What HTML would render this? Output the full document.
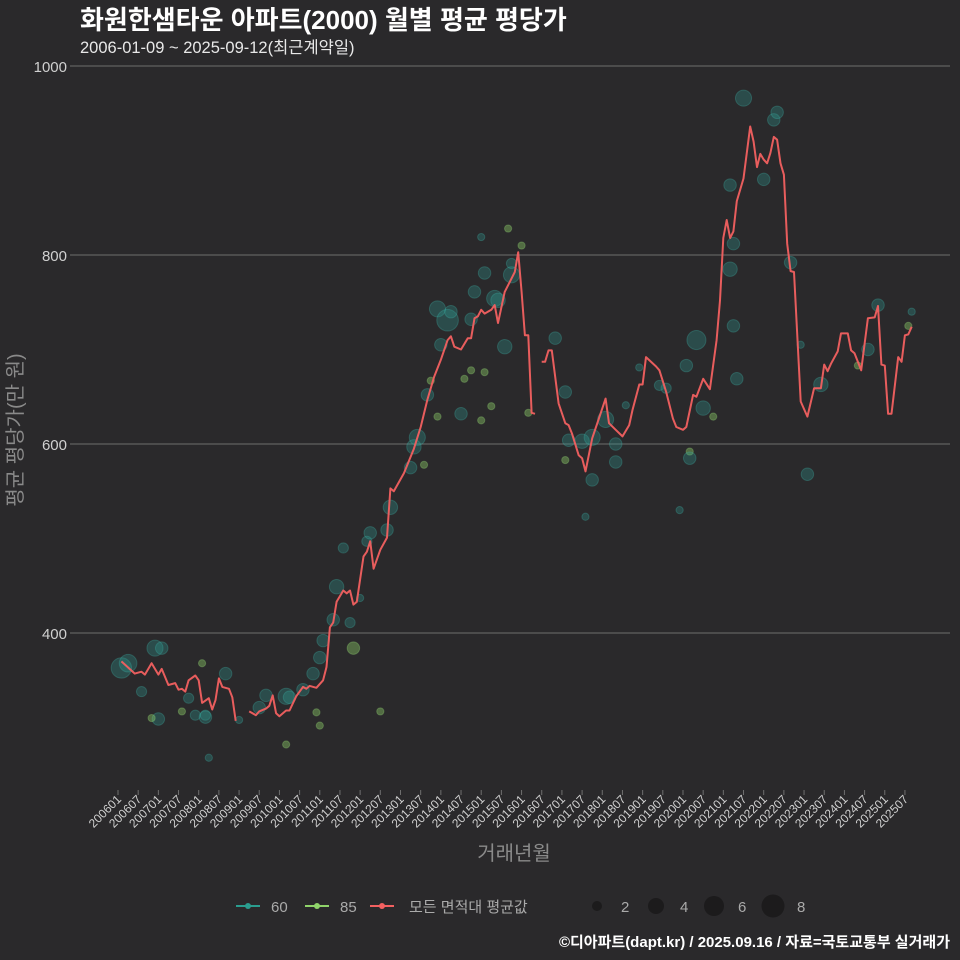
<!DOCTYPE html>
<html><head><meta charset="utf-8">
<style>
html,body{margin:0;padding:0;background:#2a292b;}
svg{display:block;font-family:"Liberation Sans","Noto Sans CJK KR",sans-serif;}
</style></head>
<body>
<svg id="chart" width="960" height="960" viewBox="0 0 960 960">
<rect width="960" height="960" fill="#2a292b"/>
<text x="80" y="29" fill="#ffffff" font-size="26" font-weight="bold">화원한샘타운 아파트(2000) 월별 평균 평당가</text>
<text x="80" y="53" fill="#e8e8e8" font-size="16.5">2006-01-09 ~ 2025-09-12(최근계약일)</text>
<g id="grid"></g>
<g id="bubbles"></g>
<g id="lines"></g>
<g id="xaxis"></g>
<text transform="translate(22,430) rotate(-90)" text-anchor="middle" fill="#8a8a8a" font-size="20">평균 평당가(만 원)</text>
<text x="514" y="860" text-anchor="middle" fill="#8a8a8a" font-size="20">거래년월</text>
<g>
 <g>
  <line x1="236" y1="906" x2="260" y2="906" stroke="#2a9d8f" stroke-width="2"/>
  <circle cx="248" cy="906" r="3" fill="#2a9d8f"/>
  <text x="271" y="912" fill="#aaaaaa" font-size="15">60</text>
 </g>
 <g>
  <line x1="305" y1="906" x2="329" y2="906" stroke="#8fd36a" stroke-width="2"/>
  <circle cx="317" cy="906" r="3" fill="#8fd36a"/>
  <text x="340" y="912" fill="#aaaaaa" font-size="15">85</text>
 </g>
 <g>
  <line x1="370" y1="906" x2="394" y2="906" stroke="#f26060" stroke-width="2"/>
  <circle cx="382" cy="906" r="3" fill="#f26060"/>
  <text x="409" y="912" fill="#aaaaaa" font-size="15">모든 면적대 평균값</text>
 </g>
 <g>
  <circle cx="597" cy="906" r="5" fill="#1c1b1c"/><text x="621" y="912" fill="#aaaaaa" font-size="15">2</text>
  <circle cx="656" cy="906" r="8" fill="#1c1b1c"/><text x="680" y="912" fill="#aaaaaa" font-size="15">4</text>
  <circle cx="714" cy="906" r="10" fill="#1c1b1c"/><text x="738" y="912" fill="#aaaaaa" font-size="15">6</text>
  <circle cx="773" cy="906" r="11.5" fill="#1c1b1c"/><text x="797" y="912" fill="#aaaaaa" font-size="15">8</text>
 </g>
</g>
<text x="950" y="947" text-anchor="end" fill="#ffffff" font-size="15" font-weight="bold">©디아파트(dapt.kr) / 2025.09.16 / 자료=국토교통부 실거래가</text>
</svg>
<script>
const yTicks = [400, 600, 800, 1000];
const xTickLabels = ["200601","200607","200701","200707","200801","200807","200901","200907","201001","201007","201101","201107","201201","201207","201301","201307","201401","201407","201501","201507","201601","201607","201701","201707","201801","201807","201901","201907","202001","202007","202101","202107","202201","202207","202301","202307","202401","202407","202501","202507"];
// average line segments: months since 2006-01, value
const seg1Months = [1,5,7,8,10,12,13,15,17,18,19,20,21,23,24,25,27,28,29,30,31,33,34,35];
const seg1Values = [370,357,359,356,368,356,362,345,347,340,341,338,350,355,350,326,331,319,329,352,343,341,332,307];
const seg2Months = [39,41,42,44,45,46,47,48,50,51,53,55,56,57,59,61,62,63,64,65,67,68,69,70,71,73,74,75,76,78,80,81,82,85,88,90,92,94,96,98,99,100,102,104,105,106,107,108,109,111,112,113,115,118,119,120,121,122,123,124];
const seg2Values = [317,313,317,320,323,334,315,312,318,318,333,343,341,344,342,350,364,406,411,433,445,442,445,430,433,481,486,497,468,488,501,553,550,569,595,618,647,671,689,710,714,703,700,712,712,733,735,742,738,742,747,728,761,782,803,761,715,715,633,632];
const seg3Months = [126,127,128,129,131,133,134,135,137,138,139,141,143,145,146,148,150,152,153,155,156,157,160,161,163,165,166,168,169,171,172,174,176,178,179,180,181,182,183,184,186,188,189,190,191,192,193,194,195,196,197,198,199,200,201,203,205,207,209,210,211,212,214,215,217,218,219,221,223,225,226,227,228,229,230,232,233,234,235,236];
const seg3Values = [687,687,699,699,643,622,620,611,588,585,571,606,627,648,622,615,608,620,636,663,663,692,682,678,655,627,618,615,618,652,650,669,658,710,752,818,837,818,825,857,881,936,920,893,907,901,897,908,925,922,897,885,812,783,782,645,629,659,659,684,677,685,698,717,717,699,696,678,733,734,746,684,683,632,632,692,687,715,716,724];
// bubbles: month, value, count, area type
const bubbleMonths = [1,3,11,13,7,12,21,23,26,26,32,27,10,25,19,36,42,44,50,51,55,58,60,61,64,65,69,67,72,74,75,80,81,70,78,50,59,60,87,88,89,91,92,93,95,98,99,96,103,105,105,102,95,109,108,111,106,109,112,113,115,117,117,120,116,108,122,130,133,133,134,138,141,141,139,145,151,148,148,155,161,163,167,170,170,169,172,174,177,183,184,182,183,182,186,192,195,196,200,205,209,226,223,203,220,236,235];
const bubbleValues = [363,368,384,384,338,309,331,313,313,311,357,268,310,368,317,308,321,334,333,332,340,357,374,392,414,449,411,490,437,497,506,509,533,384,317,282,316,302,575,597,607,578,652,667,743,731,740,705,669,678,732,632,629,676,625,640,761,781,754,752,703,779,791,810,828,819,633,712,655,583,604,603,607,562,523,626,641,600,581,681,662,659,530,592,585,683,710,638,629,725,669,785,812,874,966,880,943,951,792,568,663,747,700,705,683,740,725];
const bubbleCounts = [8,6,5,3,2,3,2,2,2,3,3,1,1,1,1,1,3,3,5,3,3,3,3,3,3,4,2,2,1,2,3,3,4,3,1,1,1,1,3,4,5,1,3,1,5,9,3,3,1,1,3,3,1,1,1,1,3,3,5,4,4,5,2,1,1,1,1,3,3,1,3,4,5,3,1,5,1,3,3,1,2,2,1,1,3,3,7,4,1,3,3,4,3,3,5,3,3,3,3,3,4,3,3,1,1,1,1];
const bubbleTypes = [60,60,60,60,60,60,60,60,60,60,60,60,85,85,85,60,60,60,60,60,60,60,60,60,60,60,60,60,60,60,60,60,60,85,85,85,85,85,60,60,60,85,60,85,60,60,60,60,85,85,60,60,85,85,85,85,60,60,60,60,60,60,60,85,85,60,85,60,60,85,60,60,60,60,60,60,60,60,60,60,60,60,60,85,60,60,60,60,85,60,60,60,60,60,60,60,60,60,60,60,60,60,60,60,85,60,85];

const NS = "http://www.w3.org/2000/svg";
const X0 = 118, XPM = 3.363, Y400 = 633, YPU = 0.945;
function xScale(m){ return X0 + m * XPM; }
function yScale(v){ return Y400 - (v - 400) * YPU; }
function mk(tag, attrs, parent){
  const el = document.createElementNS(NS, tag);
  for (const k in attrs) el.setAttribute(k, attrs[k]);
  parent.appendChild(el);
  return el;
}
const grid = document.getElementById('grid');
yTicks.forEach(function(t){
  const y = yScale(t);
  const gl = mk('line', {x1:75, x2:950, y1:y, y2:y, stroke:'#6e6e6e', 'stroke-width':1}, grid);
  
  
  const tk = mk('line', {x1:70, x2:75, y1:y, y2:y, stroke:'#6e6e6e', 'stroke-width':1}, grid);
  
  
  const tl = mk('text', {x:67, y:y+6, 'text-anchor':'end', fill:'#d0d0d0', 'font-size':15}, grid);
  tl.textContent = t;
  
  
});
const xa = document.getElementById('xaxis');
xTickLabels.forEach(function(lab, i){
  const x = xScale(i * 6);
  const tk = mk('line', {x1:x, x2:x, y1:790, y2:795, stroke:'#6e6e6e', 'stroke-width':1}, xa);
  
  
  const tl = mk('text', {x:x+4, y:800, 'text-anchor':'end', fill:'#d0d0d0', 'font-size':12, transform:'rotate(-45 '+(x+4)+' 800)'}, xa);
  tl.textContent = lab;
  
  
});
const bg = document.getElementById('bubbles');
bubbleMonths.forEach(function(m, i){
  const is60 = bubbleTypes[i] === 60;
  const c = mk('circle', {cx:xScale(m), cy:yScale(bubbleValues[i]), r:Math.sqrt(bubbleCounts[i])*3.6,
    fill: is60 ? '#2f9e96' : '#8fd36a', 'fill-opacity': is60 ? 0.3 : 0.4,
    stroke: is60 ? '#3fb3aa' : '#9be07a', 'stroke-opacity':0.3, 'stroke-width':1}, bg);
  
  
});
const lg = document.getElementById('lines');
[[seg1Months, seg1Values],[seg2Months, seg2Values],[seg3Months, seg3Values]].forEach(function(s, j){
  const pts = s[0].map(function(m, i){ return xScale(m).toFixed(1) + ',' + yScale(s[1][i]).toFixed(1); }).join(' ');
  const pl = mk('polyline', {points:pts, fill:'none', stroke:'#f26060', 'stroke-width':2, 'stroke-linejoin':'round', 'stroke-opacity':0.95}, lg);
  
  
});
</script>
</body></html>
